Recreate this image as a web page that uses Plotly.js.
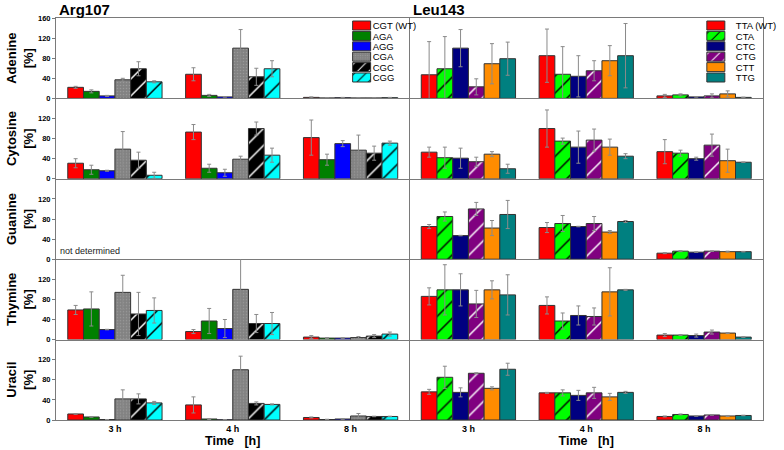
<!DOCTYPE html>
<html><head><meta charset="utf-8">
<script src="https://cdn.plot.ly/plotly-3.0.1.min.js"></script>
<style>html,body{margin:0;padding:0;background:#fff}#chart{width:784px;height:450px}</style>
</head><body><div id="chart"></div>
<script>
// ---------- DATA ----------
const times = ['3 h', '4 h', '8 h'];
const bases = ['Adenine', 'Cytosine', 'Guanine', 'Thymine', 'Uracil'];
const argCodons = ['CGT (WT)', 'AGA', 'AGG', 'CGA', 'CGC', 'CGG'];
const leuCodons = ['TTA (WT)', 'CTA', 'CTC', 'CTG', 'CTT', 'TTG'];

// values per codon: [3 h, 4 h, 8 h]
const argAdenine    = [[22, 48, 2], [14, 6, 1], [5, 3, 1.5], [37, 100, 1], [59, 43, 1], [33, 59, 1.5]];
const argAdenineErr = [[2, 13, 1], [3, 2, 0.5], [1, 0.5, 0.5], [3, 37, 0.5], [14, 17, 0.5], [2, 16, 0.5]];
const leuAdenine    = [[47, 85, 5], [59, 48, 7], [100, 44, 3], [23, 55, 5], [69, 75, 9], [79, 85, 2]];
const leuAdenineErr = [[66, 53, 3], [64, 55, 2], [37, 41, 0.5], [16, 20, 4], [40, 30, 6], [33, 64, 0.5]];

const argCytosine    = [[31, 93, 82], [18, 21, 38], [16, 12, 70], [59, 39, 57], [37, 100, 51], [7, 47, 71]];
const argCytosineErr = [[9, 15, 35], [9, 8, 11], [1, 7, 6], [35, 6, 30], [16, 13, 14], [6, 14, 4]];
const leuCytosine    = [[53, 100, 54], [42, 75, 51], [41, 63, 40], [34, 77, 67], [49, 63, 36], [20, 45, 33]];
const leuCytosineErr = [[10, 37, 24], [21, 6, 6], [20, 32, 3], [9, 22, 22], [5, 16, 23], [9, 5, 0.5]];

// Guanine was not determined for Arg107
const argGuanine    = [[null, null, null], [null, null, null], [null, null, null], [null, null, null], [null, null, null], [null, null, null]];
const argGuanineErr = [[null, null, null], [null, null, null], [null, null, null], [null, null, null], [null, null, null], [null, null, null]];
const leuGuanine    = [[65, 63, 12], [85, 71, 16], [47, 65, 14], [100, 71, 16], [62, 54, 15], [89, 75, 15]];
const leuGuanineErr = [[4, 10, 1], [9, 16, 1], [0.5, 0.5, 0.5], [13, 14, 0.5], [15, 3, 1], [28, 2, 0.5]];

const argThymine    = [[59, 16, 5], [61, 37, 3], [20, 22, 3], [94, 100, 4], [51, 32, 7], [58, 32, 11]];
const argThymineErr = [[9, 4, 3], [34, 25, 1], [0.5, 18, 0.5], [34, 66, 2], [43, 18, 3], [25, 22, 4]];
const leuThymine    = [[86, 68, 9], [99, 37, 9], [99, 48, 8], [71, 46, 15], [99, 95, 13], [89, 99, 5]];
const leuThymineErr = [[17, 17, 3], [50, 16, 1], [32, 19, 3], [27, 17, 4], [18, 48, 1], [40, 1, 0.5]];

const argUracil    = [[12, 30, 5], [6, 2, 1], [1, 0.5, 2], [42, 100, 8], [42, 33, 7], [34, 31, 7]];
const argUracilErr = [[0.5, 16, 1], [0.5, 1, 0.5], [0, 0, 0.5], [18, 27, 5], [10, 3, 0.5], [3, 1, 0.5]];
const leuUracil    = [[56, 54, 7], [85, 54, 11], [55, 49, 8], [93, 54, 10], [63, 46, 8], [101, 55, 9]];
const leuUracilErr = [[5, 1, 1], [22, 6, 1], [9, 10, 0.5], [1, 11, 0.5], [3, 7, 1], [12, 2, 0.5]];

// ---------- STYLE ----------
const FONT = 'Arial, "Liberation Sans", sans-serif';
const AX = '#7a7a7a';
const argColors = ['#ff0000', '#008000', '#0000ff', '#808080', '#000000', '#00ffff'];
const leuColors = ['#ff0000', '#00ff00', '#000080', '#800080', '#ff8c00', '#008080'];
const argPatterns = [null, null, null,
  {shape: '.', fgcolor: '#999999', bgcolor: '#828282', size: 3, solidity: 0.2},
  {shape: '/', fgcolor: '#ffffff', bgcolor: '#000000', size: 12, solidity: 0.12},
  {shape: '/', fgcolor: '#000000', bgcolor: '#00ffff', size: 12, solidity: 0.12}];
const leuPatterns = [null,
  {shape: '/', fgcolor: '#000000', bgcolor: '#00ff00', size: 12, solidity: 0.12},
  null,
  {shape: '/', fgcolor: '#ffffff', bgcolor: '#800080', size: 12, solidity: 0.12},
  null, null];

const argData = [[argAdenine, argAdenineErr], [argCytosine, argCytosineErr], [argGuanine, argGuanineErr], [argThymine, argThymineErr], [argUracil, argUracilErr]];
const leuData = [[leuAdenine, leuAdenineErr], [leuCytosine, leuCytosineErr], [leuGuanine, leuGuanineErr], [leuThymine, leuThymineErr], [leuUracil, leuUracilErr]];

const traces = [];
const layout = {
  width: 784, height: 450,
  margin: {l: 56, r: 2, t: 18, b: 30},
  paper_bgcolor: '#ffffff', plot_bgcolor: '#ffffff',
  font: {family: FONT, color: '#000000'},
  barmode: 'group', bargap: 0.2, bargroupgap: 0,
  showlegend: true,
  legend: {x: 0.404, xanchor: 'left', y: 1, yanchor: 'top', bgcolor: 'rgba(0,0,0,0)', borderwidth: 0,
           font: {size: 9.5, family: FONT}, tracegroupgap: 0, traceorder: 'normal', itemwidth: 30},
  legend2: {x: 0.905, xanchor: 'left', y: 1, yanchor: 'top', bgcolor: 'rgba(0,0,0,0)', borderwidth: 0,
            font: {size: 9.5, family: FONT}, tracegroupgap: 0, traceorder: 'normal', itemwidth: 30},
  annotations: [
    {text: 'Arg107', xref: 'paper', yref: 'paper', x: 0, y: 1, xanchor: 'left', yanchor: 'bottom', xshift: 1, yshift: -2,
     showarrow: false, font: {size: 15, weight: 'bold', family: FONT}},
    {text: 'Leu143', xref: 'paper', yref: 'paper', x: 0.5, y: 1, xanchor: 'left', yanchor: 'bottom', xshift: 1, yshift: -2,
     showarrow: false, font: {size: 15, weight: 'bold', family: FONT}},
    {text: 'not determined', xref: 'x5 domain', yref: 'y5 domain', x: 0.005, y: 0.02, xanchor: 'left', yanchor: 'bottom',
     showarrow: false, font: {size: 9, family: FONT, color: '#222'}}
  ]
};

for (let r = 0; r < 5; r++) {
  for (let c = 0; c < 2; c++) {
    const k = r * 2 + c + 1;
    const xs = k === 1 ? '' : String(k);
    const codons = c === 0 ? argCodons : leuCodons;
    const colors = c === 0 ? argColors : leuColors;
    const pats = c === 0 ? argPatterns : leuPatterns;
    const [vals, errs] = (c === 0 ? argData : leuData)[r];
    codons.forEach((name, j) => {
      const marker = {color: colors[j], line: {color: '#333333', width: 1}};
      if (pats[j]) marker.pattern = Object.assign({fillmode: 'replace'}, pats[j]);
      traces.push({
        type: 'bar', name: name, x: times, y: vals[j],
        error_y: {type: 'data', array: errs[j], visible: true, color: '#8a8a8a', thickness: 1, width: 2},
        marker: marker,
        xaxis: 'x' + xs, yaxis: 'y' + xs,
        legendgroup: (c === 0 ? 'a' : 'l') + j,
        showlegend: r === 0,
        legend: c === 0 ? 'legend' : 'legend2',
        hoverinfo: 'skip'
      });
    });
    layout['xaxis' + xs] = {
      domain: c === 0 ? [0, 0.5] : [0.5, 1],
      anchor: 'y' + xs,
      type: 'category', categoryorder: 'array', categoryarray: times, range: [-0.5, 2.5],
      showline: true, linecolor: AX, linewidth: 1, mirror: r === 0,
      ticks: '', showticklabels: r === 4, showgrid: false, zeroline: false,
      tickfont: {size: 9, weight: 'bold', family: FONT},
      title: r === 4 ? {text: 'Time\u00a0\u00a0\u00a0[h]', font: {size: 12.5, weight: 'bold', family: FONT}, standoff: 3} : {text: ''}
    };
    layout['yaxis' + xs] = {
      domain: [1 - (r + 1) / 5, 1 - r / 5],
      anchor: 'x' + xs,
      range: [0, 160],
      tickmode: 'array',
      tickvals: r === 0 ? [0, 40, 80, 120, 160] : [0, 40, 80, 120],
      showline: true, linecolor: AX, linewidth: 1, mirror: c === 1,
      ticks: c === 0 ? 'outside' : '', ticklen: 3, tickcolor: AX,
      showticklabels: c === 0, showgrid: false, zeroline: false,
      tickfont: {size: 7.5, weight: 'bold', family: FONT},
      title: c === 0 ? {text: bases[r] + '<br>[%]', font: {size: 13, weight: 'bold', family: FONT}, standoff: 1} : {text: ''}
    };
  }
}

Plotly.newPlot('chart', traces, layout, {staticPlot: true, displayModeBar: false}).then(gd => {
  // tighten legend entries to match the compact legend of the original figure
  ['legend', 'legend2'].forEach(cls => {
    const g = gd.querySelector('g.' + cls);
    if (!g) return;
    g.querySelectorAll('g.traces').forEach((it, i) => {
      const m = /translate\(\s*([-\d.e]+)[ ,]+([-\d.e]+)\s*\)/.exec(it.getAttribute('transform') || '');
      const x0 = m ? parseFloat(m[1]) : 0;
      it.setAttribute('transform', 'translate(' + x0 + ',' + (7.5 + i * 10.4) + ')');
      it.querySelectorAll('g.legendpoints path').forEach(p => p.setAttribute('d', 'M9,4.5H-9V-4.5H9Z'));
      const t = it.querySelector('text.legendtext');
      if (t) t.setAttribute('x', 31);
    });
  });
});
</script>
</body></html>
